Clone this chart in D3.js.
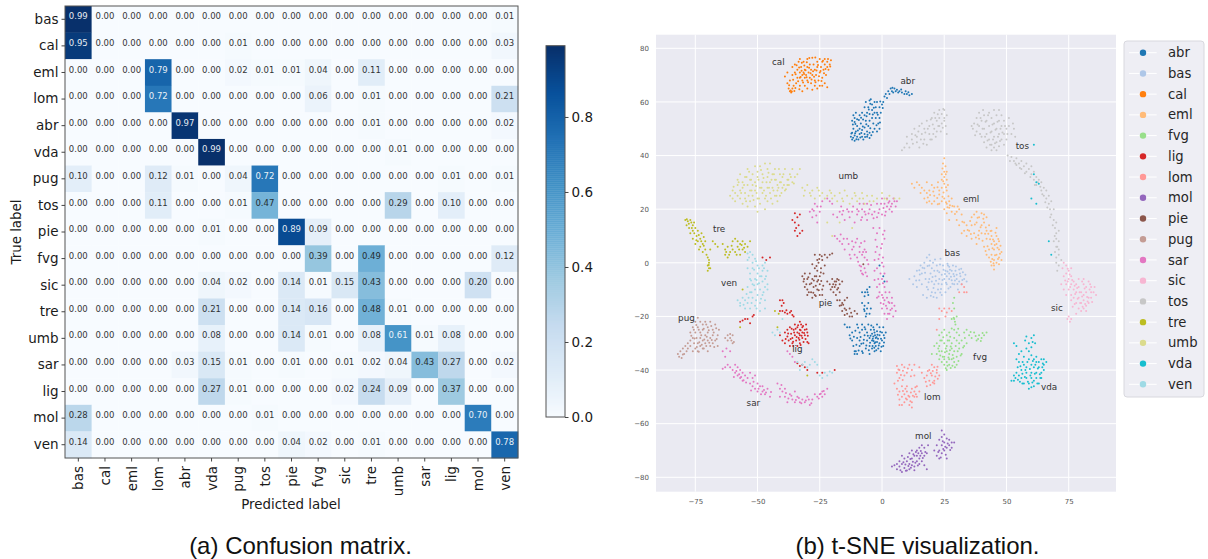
<!DOCTYPE html>
<html><head><meta charset="utf-8">
<script src="https://cdnjs.cloudflare.com/ajax/libs/d3/7.8.5/d3.min.js"></script>
<style>html,body{margin:0;padding:0;background:#fff}svg{display:block}text{font-family:"DejaVu Sans",sans-serif}</style>
</head><body><svg id="c" width="1208" height="559"></svg>
<script>
const regions=["bas","cal","eml","lom","abr","vda","pug","tos","pie","fvg","sic","tre","umb","sar","lig","mol","ven"];
const matrix=[
[.99,0,0,0,0,0,0,0,0,0,0,0,0,0,0,0,.01],
[.95,0,0,0,0,0,.01,0,0,0,0,0,0,0,0,0,.03],
[0,0,0,.79,0,0,.02,.01,.01,.04,0,.11,0,0,0,0,0],
[0,0,0,.72,0,0,0,0,0,.06,0,.01,0,0,0,0,.21],
[0,0,0,0,.97,0,0,0,0,0,0,.01,0,0,0,0,.02],
[0,0,0,0,0,.99,0,0,0,0,0,0,.01,0,0,0,0],
[.10,0,0,.12,.01,0,.04,.72,0,0,0,0,0,0,.01,0,.01],
[0,0,0,.11,0,0,.01,.47,0,0,0,0,.29,0,.10,0,0],
[0,0,0,0,0,.01,0,0,.89,.09,0,0,0,0,0,0,0],
[0,0,0,0,0,0,0,0,0,.39,0,.49,0,0,0,0,.12],
[0,0,0,0,0,.04,.02,0,.14,.01,.15,.43,0,0,0,.20,0],
[0,0,0,0,0,.21,0,0,.14,.16,0,.48,.01,0,0,0,0],
[0,0,0,0,0,.08,0,0,.14,.01,0,.08,.61,.01,.08,0,0],
[0,0,0,0,.03,.15,.01,0,.01,0,.01,.02,.04,.43,.27,0,.02],
[0,0,0,0,0,.27,.01,0,0,0,.02,.24,.09,0,.37,0,0],
[.28,0,0,0,0,0,0,.01,0,0,0,0,0,0,0,.70,0],
[.14,0,0,0,0,0,0,0,.04,.02,0,.01,0,0,0,0,.78]];
const colorbarTicks=[0,.2,.4,.6,.8];
const xTicksB=[-75,-50,-25,0,25,50,75];
const yTicksB=[80,60,40,20,0,-20,-40,-60,-80];
const legendNames=["abr","bas","cal","eml","fvg","lig","lom","mol","pie","pug","sar","sic","tos","tre","umb","vda","ven"];
const legendColors=["#1f77b4","#aec7e8","#ff7f0e","#ffbb78","#98df8a","#d62728","#ff9896","#9467bd","#8c564b","#c49c94","#e377c2","#f7b6d2","#c7c7c7","#bcbd22","#dbdb8d","#17becf","#9edae5"];
const clusterLabels=[["cal",-44.2,73.8],["abr",7.4,66.7],["umb",-17.5,31.2],["tos",53.7,42.5],["eml",32.5,22.6],["tre",-67.9,11.5],["bas",25.1,2.6],["ven",-64.7,-8.6],["pug",-81.9,-21.7],["pie",-25.4,-16],["lig",-36.1,-33.2],["sic",67.9,-17.9],["lom",16.9,-51.3],["fvg",36.6,-36.3],["vda",63.9,-47.4],["sar",-54.4,-53.3],["mol",13.3,-65.7]];

const abrPts=[[-12.5,47],[-12,48.5],[-11.5,50],[-12,46],[-11,47.5],[-11,45.5],[-10.5,49],[-10,47],[-10,51],[-9.5,46],[-9,48],[-9,50],[-8.5,52],[-8,47],[-8,49.5],[-7.5,46],[-7,48],[-7,50.5],[-6.5,53],[-6,47],[-6,49],[-5.5,51],[-5,46.5],[-5,48.5],[-5,53],[-12,53],[-11.5,55],[-11,52.5],[-11,54],[-10,53.5],[-10.5,56],[-9,55],[-8,56],[-7,55],[-7,58],[-6.5,60],[-6,56],[-5.5,58],[-5,60.5],[-5,55.5],[-4.5,61],[-4,57],[-4,59],[-4,54],[-3.5,52],[-3,56],[-3,60],[-3,50],[-2.5,58],[-2.5,54],[-2,60],[-2,49],[-2,56],[-1.5,52],[-1,58],[-1,54],[-1,50],[-.5,56],[0,59],[.5,60],[1,62],[1.5,63],[2,61.5],[2.5,64],[3,63],[3.5,65],[4,64],[4.5,63.5],[5,65],[5.5,64],[6,64.5],[6.5,63.5],[7,64],[8,63.5],[9,63],[9.5,64],[10,63],[11,62.5],[12,63],[-15,-23],[-14,-24],[-13,-24],[-13,-27],[-12,-26],[-12,-29],[-11.5,-31],[-11,-33],[-11,-34],[-10.5,-33],[-10,-34],[-10,-28],[-10,-23],[-9,-31],[-9,-26],[-9,-29],[-8,-23],[-8,-33],[-8,-25],[-7.5,-30],[-7,-27],[-7,-24],[-6.5,-32],[-6,-29],[-6,-26],[-5.5,-23],[-5,-34],[-5,-31],[-5,-28],[-4.5,-25],[-4,-26.5],[-4,-29],[-4,-32],[-3.5,-24],[-3.5,-27.5],[-3,-30],[-3,-26],[-3,-33],[-2.5,-28],[-2.5,-31],[-2,-23],[-2,-25.5],[-2,-29.5],[-1.5,-32],[-1,-27],[-1,-24],[-1,-30],[-.5,-33],[0,-26],[0,-29],[.5,-31],[.5,-24],[1,-28],[1.5,-26],[-8,-15],[-7,-18],[-7,-16],[-6.5,-20],[-6,-17],[-5.5,-15],[-5,-19],[-4.5,-17],[-8,-11],[-7,-12.5],[-6,-10],[-5.5,-12],[-5,-9],[-1,-1],[.5,-5],[1,-7]];
const abrMore=[[-12.3,48.2],[-11.6,46.6],[-10.8,48.3],[-10.3,46.1],[-9.7,49.3],[-8.7,46.7],[-8.3,48.4],[-7.7,50.8],[-6.8,46.9],[-6.3,51.7],[-5.8,47.8],[-4.7,50.2],[-4.3,47.6],[-3.7,48.8],[-11.7,51.6],[-10.7,51.8],[-9.3,53.3],[-8.4,54.1],[-7.6,53.4],[-6.2,54.7],[-5.3,57.2],[-4.7,59.3],[-3.7,55.3],[-3.3,57.8],[-2.2,51.3],[-1.7,55.2],[-.7,60.2],[-.8,52.3],[.3,57.7],[4.2,65.3],[7.7,64.6],[10.6,63.6],[-12.7,-28.2],[-11.3,-27.6],[-10.7,-25.3],[-10.3,-30.6],[-9.6,-24.2],[-9.4,-32.7],[-8.6,-27.7],[-8.3,-30.2],[-7.7,-33.6],[-7.3,-28.7],[-6.7,-24.8],[-6.3,-30.8],[-5.7,-27.2],[-5.3,-32.6],[-4.8,-29.8],[-4.3,-23.4],[-3.8,-31],[-3.7,-28.3],[-3.2,-25],[-2.8,-27],[-2.7,-29.6],[-2.3,-32.6],[-1.8,-26.8],[-1.6,-28.3],[-1.3,-30.8],[-.7,-25.7],[-.4,-28.3],[-.2,-31.3],[.7,-27],[.8,-29.7],[-3.4,-29.2],[-2.2,-27.8],[-4.6,-27.2],[-3.1,-31.7],[-7.2,-17.3],[-6.2,-19],[-5.8,-11],[-6.8,-11]];
const basPts=[[11,-6],[12.5,-8],[13,-5],[14,-3],[14,-9],[15,-6.5],[15.5,-1],[16,-4],[16,-8],[16.5,-12],[17,-2],[17,0],[17.5,-6],[18,-13],[18,2],[18.5,-10],[19,3],[19,-1],[19.5,-4],[20,-7],[20,-11],[20.5,0],[21,-3],[21,-8],[21.5,-5],[22,-1],[22,-13],[22.5,-10],[23,-3.5],[23,-6],[23.5,1.5],[24,-8],[24,-4.5],[24.5,-1],[25,-6],[25.5,-11],[25.5,-3],[26,-5],[26,-8],[26.5,-1],[27,-6],[27,-4],[27.5,-9],[28,-3],[28,-6.5],[28.5,-1],[29,-5],[29,-8],[29.5,-3],[30,-6],[30,-4.5],[30.5,-10],[31,-2.5],[31,-7],[31.5,-5],[32,-8],[32.5,-3.5],[33,-6],[33.5,-4.5],[34,-7],[19,-6],[18,-9],[20,-2],[24,-12],[27,-1.5]];
const basMore=[[13.7,-6.6],[15.2,-4.4],[16.3,-1.8],[17.3,-3.7],[18.3,-1.2],[18.7,-7.3],[19.3,.8],[20.3,-5.3],[20.7,-9.4],[21.3,1.2],[21.7,-6.7],[22.3,-3],[22.7,-7.8],[23.3,-.6],[23.7,-9.8],[24.3,-6.4],[24.7,-2.6],[25.3,-4.2],[25.7,-7.4],[26.3,-3.2],[26.7,-9.6],[27.3,-2.6],[27.7,-5.2],[28.3,-7.8],[28.7,-4.2],[29.3,-6.6],[29.7,-1.4],[30.3,-7.9],[31.3,-4],[32.3,-6.4],[19.6,-12.3],[20.7,-12.8],[21.4,-11.2],[23.4,-11.1],[26.3,-.4],[31.8,-2.2],[15,-2.8]];
const calPts=[[-39,69.5],[-38,67],[-38,71],[-37.5,65],[-37,64],[-37,68],[-36.5,63.5],[-36,65],[-36,70],[-36,73],[-35.5,66],[-35,71],[-35,74],[-34.5,67],[-34,69],[-34,72],[-33.5,75],[-33,71],[-33,69],[-33,66],[-33,76],[-32.5,73],[-32,70],[-32,68],[-32,64],[-31.5,71],[-31.5,75],[-31,69],[-31,72],[-31,66],[-30.5,70],[-30,73],[-30,76],[-30,68],[-30,65],[-29.5,71],[-29,69],[-29,74],[-28.5,67],[-28.5,72],[-28,76.5],[-28,70],[-28,64.5],[-27.5,74],[-27,72],[-27,68],[-27,66],[-26.5,70],[-26,75],[-26,65],[-26,73],[-25.5,68],[-25,76],[-25,71],[-25,66],[-24.5,73],[-24,69],[-24,66],[-24,75],[-23.5,72],[-23,67],[-23,74],[-22.5,70],[-22,75],[-22,65.5],[-21.5,72],[-21,74],[-20.5,75.5],[-22,73],[-23,76]];
const calMore=[[-37.3,66.2],[-36.7,64.3],[-36.2,63.9],[-35.7,68.3],[-35.2,64.1],[-34.7,70.3],[-34.3,73.7],[-33.7,67.7],[-33.3,72.8],[-32.7,69.3],[-32.3,71.6],[-32.2,74.6],[-31.7,67.2],[-31.3,70.4],[-30.7,71.8],[-30.3,69.2],[-30.2,74.8],[-29.7,67.3],[-29.3,72.7],[-28.7,70.7],[-28.3,68.4],[-27.7,71.4],[-27.3,69.4],[-26.7,67.3],[-26.3,71.7],[-25.7,73.8],[-25.3,69.6],[-24.7,71.5],[-24.3,67.8],[-23.7,75.4],[-23.3,70.7],[-22.7,72.3],[-21.7,76],[-20.8,73.2],[-33.2,64.7],[-34.8,65.2],[-31.2,73.6],[-29.2,76.4],[-26.8,76.6]];
const emlPts=[[25,39],[24.5,37],[25.5,36],[25,34],[26,34],[24,33],[25,32],[26,31],[24,31],[26.5,29],[25,29.5],[22.5,30],[24,28],[26,27],[21,28],[23,27],[20,29],[18,30],[12,29.5],[14,30],[13,28],[15,29],[16,28],[15.5,26],[17,27],[18,26],[19,27],[21,25],[23,25.5],[25,24],[17,24],[18,22.5],[19,23],[20,22],[21,23],[23,22],[24,23],[26,22],[27,23],[28,24],[25,20],[26,18.5],[27,20.5],[28,19],[29,21],[30,19],[31,20],[27,16],[30,16],[32,18],[31,14],[33,15],[33,12],[34,14],[32,11],[34,10],[35,12],[36,17],[36,14],[37,18],[38,19],[38,15],[39,17],[40,18.5],[41,18],[42,17],[36,9],[37,11],[38,7],[39,12],[39,9],[40,14],[40,11],[41,6],[41,15],[42,12],[42,9],[43,5],[43,14],[44,10],[44,7],[44,3],[44,12],[45,8],[45,5],[45,1],[45,-1],[46,10],[46,7],[46,3],[46,13],[47,5],[47,2],[47,8],[48,4],[48,1],[43,2],[42,3],[46,0],[47,-.5],[44,-1],[45,-2.5]];
const emlMore=[[24.3,35.2],[25.6,33],[24.6,30.4],[25.7,28.2],[22.3,28.2],[24.7,26.2],[19.3,25.3],[20.6,26.6],[22.2,24.2],[24.3,24.6],[26.7,24.8],[18.4,24.4],[22.4,21.8],[25.7,22.6],[27.3,21.5],[26.3,20.7],[28.3,21.2],[29.3,18.2],[30.4,21],[32.3,15.3],[34.4,12.2],[35.4,15.6],[35.7,10.7],[37.3,14.3],[37.7,9.4],[38.4,16.8],[38.7,10.3],[39.6,13.3],[40.4,8.2],[40.7,16.4],[41.4,10.8],[41.7,13.2],[42.4,6.2],[42.7,10.8],[43.4,8.8],[43.6,11.9],[44.4,5.4],[44.6,8.7],[45.4,2.8],[45.6,11.2],[46.4,5.6],[46.6,1.4],[47.4,3.4],[47.6,6.4],[43.7,.4],[44.8,-.2],[41.6,4.4],[46.7,8.9],[45.3,6.6],[44.3,1.4]];
const fvgPts=[[29,-13],[28.5,-15],[29,-17],[30,-20],[29,-21],[28,-21],[29.5,-23],[24,-26],[25,-25],[23,-27],[26,-27],[27,-26],[28,-24.5],[29,-25],[30,-26],[31,-27],[33,-26],[34,-25],[35,-27],[36,-28],[37,-26],[38,-29],[39,-27],[40,-28],[41,-27],[42,-26],[21,-31],[22,-30],[23,-31],[24,-29],[25,-30],[26,-31],[27,-29],[28,-30],[29,-28],[30,-29],[31,-30],[32,-29],[33,-31],[34,-30],[22,-34],[23,-33],[24,-33],[25,-35],[26,-33],[27,-34],[28,-32],[29,-33],[30,-35],[31,-32],[32,-34],[20,-34],[24,-37],[25,-38],[26,-37],[27,-38],[28,-36],[29,-37],[30,-38],[26,-40],[25,-36],[27,-36],[23,-36]];
const fvgMore=[[29.3,-22],[28.8,-20.5],[23.4,-29],[24.6,-27.8],[25.6,-32],[26.4,-29],[27.6,-31.2],[28.4,-34.4],[29.6,-31],[30.4,-33],[30.7,-36.6],[28.7,-35.6],[27.3,-32.6],[26.7,-35.3],[25.3,-33.4],[24.4,-35],[23.4,-34.6],[22.6,-32],[26.3,-38.4],[27.6,-39.2],[28.3,-38.4],[29.3,-39],[25.6,-39.3],[31.6,-34.6],[32.6,-31.6],[33.3,-28],[35.6,-25.8],[37.6,-27.3],[38.6,-28.4],[39.7,-29.2],[40.4,-26.2],[30.6,-24.6],[27.4,-27.6]];
const ligPts=[[-41,-14],[-40,-14],[-39.5,-15],[-41,-18],[-40,-18],[-39,-18.5],[-38,-19],[-37,-18.5],[-36,-19.5],[-35.5,-20],[-41,-27],[-40,-29],[-39,-26],[-39,-30],[-38,-27.5],[-38,-25],[-37.5,-29],[-37,-31],[-37,-24],[-36.5,-26.5],[-36,-28],[-36,-30],[-35.5,-25],[-35,-23],[-35,-27],[-34.5,-29],[-34,-26],[-34,-31],[-34,-24],[-33.5,-28],[-33,-22],[-33,-25],[-33,-27],[-33,-30],[-32.5,-23],[-32,-26],[-32,-28],[-32,-24],[-31.5,-29.5],[-31,-25],[-31,-27],[-30.5,-23],[-30,-26],[-30,-29.5],[-29.5,-30],[-57,-22],[-56,-21.5],[-55,-21],[-54,-21],[-53,-22.5],[-52,-20],[-51.5,-19.5],[-36,16],[-35,18.5],[-34,17],[-33,18],[-35,15],[-34.5,13],[-33.5,14],[-35,12],[-34,10],[-33,11],[-32,12],[-48,2],[-46.5,1],[-45,2],[-34,-37.5],[-33,-38.5],[-32,-38],[-31,-39],[-30,-40],[-26,-41],[-24,-41],[-19,-40]];
const ligMore=[[-38.7,-28.4],[-37.7,-26.4],[-36.7,-28.4],[-36.3,-24.6],[-35.7,-29.4],[-35.3,-26],[-34.7,-24.6],[-34.3,-27.7],[-33.7,-23.3],[-33.3,-26.4],[-33.2,-28.7],[-32.7,-25.2],[-32.3,-27.2],[-31.7,-23.6],[-31.3,-26.2],[-30.7,-28.4],[-30.3,-24.8],[-29.8,-27.2],[-35.7,-31],[-32.7,-30.7],[-40.3,-16],[-38.4,-17.7],[-36.5,-18]];
const lomPts=[[6,-38.5],[7,-40],[8,-38],[6,-41],[9,-42],[7,-43],[9,-39],[10,-41],[11,-38],[12,-40],[13,-38],[13,-42],[15,-39],[20,-38],[19,-40],[21,-39],[22,-41],[23,-42],[16,-41],[17,-43],[18,-42],[19,-44],[20,-42],[21,-44],[22,-40],[18,-46],[21,-45],[5,-45],[6,-47],[7,-48],[8,-46],[9,-49],[10,-46],[11,-50],[12,-47],[13,-48],[14,-46],[10,-48],[9,-52],[8,-50],[7,-51],[7,-53],[8,-53],[10,-51],[11,-53],[12,-52],[12,-54],[13,-50],[14,-50],[15,-48],[23,-17],[24,-18],[25,-17],[26,-18.5],[27,-17],[28,-18],[25.5,-20],[23,-21],[32,-8],[33,-9],[34,-11],[31,-11],[33,-11],[22,-25]];
const lomMore=[[6.6,-39.8],[7.6,-41.8],[8.4,-40.3],[6.4,-44],[8.3,-43.7],[10.4,-39.4],[11.6,-42.3],[18.4,-40.4],[20.4,-40.4],[21.4,-42.4],[22.4,-43.2],[19.6,-41.2],[17.6,-44.4],[19.4,-45.6],[20.4,-44.6],[22.3,-38.8],[9.4,-47],[10.6,-49.6],[11.6,-48.4],[12.4,-49.6],[13.4,-46.4],[9.6,-50.6],[11.4,-51.6],[6.4,-49.2],[8.4,-47.8],[13.6,-49]];
const molPts=[[4,-76],[5,-75.5],[6,-75],[6,-77],[7,-74],[7,-76],[8,-72],[8,-75],[8,-78],[9,-73],[9,-76.5],[10,-74],[10,-77.5],[11,-71],[11,-75],[11,-77],[12,-73],[12,-75.5],[12,-70],[13,-72],[13,-76],[14,-70],[14,-74],[14,-72],[15,-69],[15,-73],[15,-75],[16,-71],[16,-74],[16,-68],[17,-72],[17,-69],[17,-75.5],[18,-71],[18,-77],[18.5,-68],[21,-70],[22,-72],[22,-68],[23,-73],[23,-66],[23,-70],[24,-62.5],[24,-65],[24,-68],[24,-71],[25,-64],[25,-67],[25,-70],[26,-65.5],[26,-69],[26,-73],[27,-66],[27,-68],[28,-67],[28,-69],[29,-67]];
const molMore=[[7.4,-77.4],[8.6,-74.4],[9.4,-75.2],[9.6,-77.6],[10.4,-72.4],[10.6,-75.8],[11.4,-73.2],[11.6,-76.4],[12.4,-74.2],[12.6,-71.4],[13.4,-74.6],[13.6,-70.6],[14.4,-75.6],[14.6,-71],[15.4,-72],[15.6,-70.2],[16.4,-72.8],[17.4,-70.6],[13,-77.4],[24.4,-66.6],[24.6,-69.4],[25.4,-68.6],[25.6,-71.6],[26.4,-67.4],[27.4,-69.8],[22.6,-70.6],[23.6,-72.6]];
const piePts=[[-32,-5],[-31.5,-7],[-31,-9],[-31,-4],[-30,-6],[-30,-10],[-30,-12],[-29,-8],[-29,-4],[-28.5,-11],[-28,-6],[-28,-13],[-27.5,-9],[-27,-2],[-27,-5],[-27,-12],[-26,-7],[-26,-10],[-26,-3],[-25.5,0],[-25,-12],[-25,-8],[-25,-5],[-24.5,-2],[-24,1],[-24,-10],[-24,-12],[-23.5,-4],[-23,3],[-27,3],[-26,1],[-25,3],[-23,-1],[-22,2],[-21,3],[-20,3.5],[-28,-.5],[-22,-7],[-21,-8],[-20,-9],[-20,-6],[-19.5,-11],[-19,-7],[-19,-9],[-18.5,-12],[-18,-6],[-18,-10],[-17,-8],[-17,-11],[-16,-7],[-18,-14],[-17,-14],[-16,-15],[-15,-14],[-14,-13],[-17,-16],[-16,-18],[-15,-17],[-15,-19.5],[-14,-19],[-13,-17],[-12,-20],[-11,-18],[-10,-19],[-13,-20],[-7.5,-.5]];
const pieMore=[[-31.3,-6],[-30.4,-8],[-29.6,-5.4],[-29.4,-11],[-28.4,-7.6],[-27.6,-11.2],[-27.4,-6.6],[-26.6,-8.6],[-26.4,-5],[-26.6,-12.4],[-25.6,-6.4],[-25.4,-10.2],[-24.4,-6.8],[-24.6,-3.6],[-23.6,-8.6],[-25.2,1.4],[-24.2,2.4],[-26.3,-1.2],[-19.6,-8],[-18.6,-8.2],[-18.4,-7],[-17.6,-9.4],[-20.6,-10],[-17.4,-6.4],[-16.4,-15.8],[-15.6,-15.6],[-14.4,-17.6],[-12.4,-18.6]];
const pugPts=[[-82,-34],[-81.5,-35],[-81,-33],[-80.5,-35.5],[-80,-32],[-79.5,-34],[-79,-31],[-78.5,-33],[-78,-30],[-78,-32],[-77,-29],[-77,-26],[-77,-31],[-76,-24],[-76,-28],[-76,-33],[-75.5,-30],[-75,-22],[-75,-26],[-75,-32],[-74.5,-28],[-74,-20.5],[-74,-24],[-74,-30],[-74,-33],[-73,-22],[-73,-26],[-73,-28],[-73,-31],[-72,-23],[-72,-25],[-72,-29],[-72,-32],[-71,-22],[-71,-27],[-71,-30],[-70,-24],[-70,-26],[-70,-29],[-70,-33],[-69,-22],[-69,-28],[-69,-31],[-68,-25],[-68,-27],[-68,-30],[-67,-23],[-67,-29],[-66,-27],[-66,-31],[-65.5,-25],[-63,-28],[-62,-27],[-61,-28],[-60.5,-29],[-60,-27],[-59.5,-29.5],[-60,-30],[-62,-29]];
const pugMore=[[-76.6,-27.2],[-75.6,-25],[-75.3,-28.2],[-74.6,-23.2],[-74.4,-31.4],[-73.6,-25],[-73.4,-29.6],[-73.6,-33.2],[-72.6,-27],[-72.4,-30.6],[-71.6,-24.6],[-71.4,-28.6],[-71.6,-32],[-70.6,-23],[-70.4,-27.6],[-70.6,-31],[-69.6,-25.2],[-69.4,-29.8],[-68.6,-23.6],[-68.4,-28.8],[-67.6,-26],[-67.4,-31.4],[-66.6,-24.4],[-66.4,-28.4],[-80,-34.2],[-61,-26.6]];
const sarPts=[[-64,-39.5],[-63,-39],[-62,-38],[-61,-39],[-60,-40],[-59,-41],[-59,-38],[-58,-39],[-58,-42],[-57,-40],[-57,-43],[-56,-41],[-56,-44],[-55,-42],[-54,-43],[-53,-41],[-52,-43],[-51,-42],[-53,-45],[-52,-46],[-51,-47],[-50,-45],[-50,-48],[-49,-46],[-48,-48],[-48,-46],[-47,-49],[-46,-47],[-45,-50],[-42,-45],[-41,-47],[-41,-50],[-40,-48],[-39,-47],[-39,-50],[-38,-52],[-37,-49],[-36,-51],[-35,-48],[-35,-52],[-34,-50],[-33,-52],[-32,-51],[-31,-52],[-30,-50],[-29,-53],[-28,-51],[-27,-49],[-26,-50],[-25,-49],[-24,-48],[-24,-50],[-23,-49],[-22,-47],[-64,-33],[-63,-35],[-62.5,-32],[-61,-33],[-38,-33],[-37,-34],[-36,-35],[-35,-37],[-29,19],[-28,20],[-28,17],[-27,22],[-26,21],[-25,19],[-26,15],[-24,23],[-22,24],[-21,23],[-20,22],[-18,17],[-17,19],[-16,18],[-15,16],[-14,20],[-13,17],[-12,19],[-11,15],[-10,18],[-10,20],[-9,22],[-8,17],[-8,20],[-7,19],[-6,22],[-6,16],[-5,20],[-4,18],[-3,19],[-2,22],[-2,17],[-1,20],[0,24],[0,18],[1,22],[1.5,19],[2,21],[2,24],[3,20],[3,23],[4,22],[4,19],[5,23],[5.5,21],[6,23],[-19,10],[-18,9],[-17,8],[-16,7],[-15,5],[-14,9],[-13,3],[-12,5],[-12,8],[-11,3],[-10,9],[-10,2],[-9,6],[-9,4],[-8,3],[-7,8],[-7,5],[-7,2],[-6,1],[-9,-1],[-8.5,-3],[-8,-4],[-7,-2],[-6,-5],[-5.5,-.5],[-3.5,13],[-2,11],[-1,13],[1,12],[1,9],[0,7],[-2,6],[-1,3],[-3,1],[-3,-3],[-2,-2],[0,0],[-1.5,-6],[-2,-9],[-1,-8],[0,-6],[1,-4],[1,-9],[2,-7],[-2,-13],[-1,-11],[0,-12],[1,-14],[2,-13],[3,-11],[3,-15],[4,-13],[-.5,-15],[0,-17],[1,-19],[2,-17],[3,-19],[4,-17],[4.5,-20],[5,-16],[5.5,-18],[2,-21]];
const sarMore=[[-59.5,-42.6],[-58.5,-40.4],[-57.4,-41.6],[-56.6,-42.6],[-55.6,-43.8],[-54.6,-44.6],[-52.6,-47.6],[-51.6,-44.4],[-49.6,-47],[-48.6,-49],[-47.4,-47.4],[-46.6,-48.4],[-44.6,-48.2],[-40.4,-45.6],[-38.6,-48.6],[-37.6,-50.6],[-36.4,-49.6],[-34.6,-51.2],[-33.4,-50.4],[-32.4,-52.4],[-30.6,-51.4],[-29.4,-51],[-28.4,-52.4],[-25.4,-50.6],[-24.6,-48.8],[-23.4,-47.8],[-27.4,19.4],[-26.4,17.6],[-24.6,21],[-19.6,18],[-16.4,21],[-15.6,19.4],[-13.4,19],[-11.6,21],[-9.4,19.2],[-8.4,16],[-7.4,22],[-6.6,18],[-5.4,18.4],[-4.4,21.6],[-3.4,16.6],[-1.4,18.6],[-.4,22],[.6,20.4],[1.2,17.6],[2.6,22.4],[3.6,21],[4.6,24],[-16.6,10.6],[-15.4,9],[-13.4,7],[-12.6,1.6],[-11.4,6],[-10.6,7.6],[-9.6,.4],[-8.4,7.4],[-7.6,4],[-6.4,4],[-7.6,-4.4],[-8.4,-1.4],[-6.6,-3.6],[-2.6,4],[-1.4,1.4],[-.4,5.4],[.4,2],[-2.6,8.6],[.4,10.6],[-3,-6.4],[-.6,-4],[.6,-1.4],[.4,-7.6],[1.4,-11],[-1.4,-12.6],[.6,-15.4],[1.6,-16],[2.6,-14.6],[3.4,-17.6],[2.4,-19],[.4,-13],[4,-15]];
const sicPts=[[73,0],[72.5,-2],[74,-1],[74,-4],[73,-5],[75,-3],[76,-2],[75,-6],[74,-8],[72,-8],[76,-8],[76,-5],[77,-7],[73,-10],[74,-12],[75,-10],[76,-12],[76,-14],[77,-10],[77,-13],[78,-8],[78,-11],[78,-15],[79,-6],[79,-9],[79,-13],[79,-17],[80,-11],[80,-15],[80,-18],[81,-6],[81,-8],[81,-12],[81,-14],[81,-17],[82,-9],[82,-11],[82,-16],[83,-7],[83,-13],[83,-15],[84,-9],[84,-11],[84,-13],[85,-11],[86,-12],[75,-20],[76,-21],[74.5,-21],[75.5,-22],[78,-19],[82,-18]];
const sicMore=[[74.6,-2.2],[75.4,-4.4],[73.6,-6.6],[74.6,-7],[75.6,-9],[76.4,-6.4],[77.4,-8.6],[77.6,-11.6],[78.4,-9.4],[78.6,-13.4],[79.4,-11],[79.6,-15],[80.4,-7],[80.4,-12.6],[80.6,-16.4],[81.4,-9.6],[81.6,-15.4],[82.4,-12.8],[82.6,-14.4],[83.4,-10],[83.6,-8],[84.4,-14.6],[85.4,-9],[77.4,-15.4],[76.6,-16.4]];
const tosPts=[[8,42],[9,43],[10,44.5],[11,43],[10,47],[12,46],[12,48],[13,50],[14,45],[14,47],[15,51],[15,43],[16,48],[16,52],[17,46],[17,50],[18,53],[18,44],[19,48],[19,51],[20,54],[20,46],[21,50],[21,56],[22,53],[22,49],[23,57],[23,54],[23,51],[24,55.5],[24,52],[25,57],[25,54],[25,53],[26,55],[36,51],[36.5,50],[37,52],[38,54],[38,49],[39,56],[39,51],[40,53],[40,47],[41,55],[41,50],[41,45],[42,53],[42,48],[42,43],[43,56],[43,51],[43,46],[44,54],[44,49],[44,42],[44,44],[45,57],[45,52],[45,47],[45,43],[46,55],[46,50],[46,45],[46,42],[47,57],[47,53],[47,48],[47,43.5],[48,55],[48,51],[48,46],[49,53],[49,48],[49,44],[50,50],[50,46],[51,54],[51,51],[52,48],[53,50],[53.5,47],[50.5,40],[52,39.5],[53,38],[54,39],[54,36.5],[55,37],[56,38],[56,35],[57,36],[58,34],[58,37],[59,35],[60,33],[60,36],[61,31],[61,34],[62,32],[62,29],[63,31],[64,30],[64,27],[65,28],[65,25],[66,27],[66,24],[67,25],[67,22],[67.5,20],[68,23],[68,18],[69,20],[69,16],[69.5,13],[70,15],[70,11],[71,12],[70,9],[69,8],[70,6],[71,8],[69.5,4],[70,2],[71,3],[70,0],[71,-1],[72,1]];
const tosMore=[[12.4,44.4],[13.4,47.6],[14.6,49],[15.6,46],[16.6,44.4],[17.4,48.6],[18.4,50],[19.4,46],[19.6,53.4],[20.6,48],[20.4,51.6],[21.4,54],[21.6,47],[22.6,51],[22.4,55.4],[23.6,49],[24.4,50.4],[24.6,57.4],[25.6,51],[26,48],[37.4,47.6],[38.4,51.6],[39.4,48],[39.6,54],[40.4,50],[40.6,57],[41.4,47],[41.6,52.6],[42.4,45.6],[42.6,55],[43.4,44],[43.6,48.6],[44.4,51.6],[44.6,46],[45.4,44.6],[45.6,49.6],[46.4,52.6],[46.6,47],[47.4,45.4],[47.6,50],[48.4,48.6],[49.4,51],[50.4,48],[52.6,52],[51.4,38],[53.6,37],[55.4,35.4],[57.4,33.4],[59.6,32],[61.4,29],[62.6,30],[63.6,28.4],[64.4,25.6],[65.6,22.6],[66.4,20.6],[67.6,17],[68.6,14],[69.4,10],[70.4,6],[71,5],[70.4,-3]];
const trePts=[[-79,16],[-78.5,14],[-78,15.5],[-77.5,13],[-77,16],[-77,11],[-76,14],[-76,12],[-76,9],[-75.5,15],[-75,13],[-75,7],[-74.5,10],[-74,12],[-74,8],[-73.5,5],[-73,9],[-73,6],[-72.5,11],[-72,4],[-72,7],[-71,8],[-71,5],[-70.5,3],[-69,5],[-68,8],[-67,7],[-66,6],[-70,2],[-69.5,1],[-69.5,0],[-70,-1],[-69.5,-2],[-70,-3],[-69,-2],[-64,7],[-63,5],[-63,3],[-62,6],[-62,2],[-61,4],[-60,5],[-60,8],[-59,9],[-59,4],[-58,6],[-58,8],[-57,7],[-57,3],[-56,5],[-56,8],[-55,7],[-55,4],[-54,6],[-53,8],[-56,-10],[-57,-24],[-43,-18],[-42,-24],[-41.5,-19],[-30,-42]];
const treMore=[[-78.4,16.2],[-77.6,14.6],[-76.6,15],[-76.4,13],[-75.4,11],[-74.6,8.4],[-73.6,10.4],[-72.6,8],[-71.6,9.6],[-71.6,6.4],[-69.6,-.8],[-62.6,4],[-61.4,3],[-60.4,6.4],[-58.4,3],[-57.4,5],[-56.4,6.6],[-55.4,5.6]];
const umbPts=[[-61,25],[-60,24],[-60,27],[-59,23],[-59,26],[-58,29],[-58,25],[-58,31],[-57,27],[-57,33],[-57,24],[-56,30],[-56,22],[-56,28],[-55,26],[-55,32],[-55,24],[-54,29],[-54,35],[-54,21],[-53,27],[-53,31],[-53,23],[-52,33],[-52,29],[-52,25],[-51,36],[-51,30],[-51,27],[-51,21],[-50,34],[-50,24],[-50,32],[-50,19],[-49,28],[-49,36],[-49,22],[-48,30],[-48,26],[-48,33],[-47,37],[-47,24],[-47,20],[-46,32],[-46,28],[-46,35],[-46,23],[-45,30],[-45,26],[-45,37],[-44,33],[-44,28],[-44,22],[-43,31],[-43,25],[-43,35],[-42,29],[-42,27],[-42,23],[-41,33],[-41,30],[-41,25],[-40,32],[-40,28],[-39,35],[-39,27],[-38,31],[-38,29],[-37,33],[-36,30],[-36,35],[-35,32],[-34,33],[-33,35],[-32,28],[-31,27],[-30,29],[-29,26],[-28,27],[-27,24],[-26,28],[-25,25],[-24,26],[-22,25],[-21,27],[-20,24],[-19,25],[-18,23],[-17,26],[-16,24],[-15,27],[-14,25],[-13,22],[-12,24],[-11,26],[-10,23],[-9,24],[-8,26],[-7,22],[-6,25],[-5,23],[-4,25],[-2,24],[0,26],[1,24],[3,25],[5,24],[7,24],[-22,15],[-20,10],[-17,15],[-12,13]];
const umbMore=[[-59.6,28.4],[-57.6,30],[-56.6,26],[-55.4,29],[-54.6,23],[-54.4,32],[-53.6,25],[-53.4,34],[-52.4,27],[-52.6,31],[-51.6,23.4],[-50.6,28.6],[-50.4,26],[-49.6,31],[-49.4,24],[-48.6,34.6],[-48.4,28],[-47.6,31.6],[-47.4,27],[-46.6,25],[-46.4,30],[-45.6,33.6],[-45.4,28],[-44.6,24],[-44.4,31],[-43.6,27],[-43.4,33],[-42.6,31],[-42.4,25],[-41.6,28],[-41.4,35],[-40.6,30],[-40.4,26],[-39.6,33],[-39.4,29],[-38.6,27.4],[-37.6,31],[-37.4,29],[-36.6,32],[-35.4,29.6],[-31.4,25],[-28.6,25],[-25.4,27],[-23,24],[-20.4,26],[-15.6,23],[-10.6,25],[-7.6,24],[-3.4,23],[2,23.6]];
const vdaPts=[[57.5,-29],[58,-27.5],[59,-30],[60,-28],[60.5,-29.5],[61,-27],[61.5,-30],[53,-30],[54,-31],[58,-32],[59,-33],[60,-31.5],[56,-33],[55,-34],[55,-37],[54,-36],[54.5,-39],[53,-42],[52,-44],[53,-44],[54,-41],[55,-42],[56,-40],[56,-43],[56.5,-37],[57,-35],[57,-38],[57,-45],[58,-41],[58,-43],[58,-39],[59,-36],[59,-45],[59,-47],[60,-34.5],[60,-38],[60,-41],[60,-43],[61,-36],[61,-39],[61,-46],[61,-44],[62,-37],[62,-41],[62,-43],[62,-35],[63,-39],[63,-45],[63,-37],[64,-36],[64,-41],[64,-43],[65,-38],[65,-40],[66,-37],[65,-36],[61,44],[62,30],[63,29.5],[60,24],[62,22],[61,33],[68,3],[67,8]];
const vdaMore=[[55.6,-38.6],[56.4,-41.4],[53.6,-43],[54.6,-43.6],[55.4,-44.4],[56.4,-45],[57.4,-42.6],[57.6,-40],[58.6,-44.4],[58.4,-37],[59.4,-39.6],[59.6,-42],[60.4,-44.6],[60.6,-36.6],[61.4,-41.4],[61.6,-38],[62.4,-45],[62.6,-39.4],[63.4,-41.6],[63.6,-43],[64.6,-37.6],[64.4,-39],[60,-46.4]];
const venPts=[[-54,3.5],[-53,4],[-52,3],[-51,1.5],[-54,1],[-52,0],[-50,-1],[-48,-1],[-47,0],[-54,-2],[-53,-4],[-52,-2],[-50,-4],[-48,-3],[-46,-3],[-53,-6],[-51,-6],[-49,-5],[-47,-6],[-46,-8],[-48,-7],[-50,-8],[-52,-8],[-54,-9],[-53,-11],[-51,-10],[-49,-10],[-47,-9],[-46,-10],[-55,-14],[-57,-15],[-56,-13],[-58,-14],[-54,-15],[-52,-13],[-50,-12],[-48,-12],[-53,-17],[-51,-16],[-49,-15],[-47,-14],[-55,-17],[-57,-16],[-47,-17],[-49,-18],[-44,-26],[-43,-27],[-42,-25],[-41,-26],[-40,-21],[-34,-37],[-33,-40],[-32,-38],[-31,-37],[-30,-39],[-29,-38],[-28,-36],[-27,-37],[-26,-38],[-25,-42],[-24,-43],[-23,-41],[-22,-42],[-21,-40.5],[-20,-41]];
const venMore=[[-53.4,2],[-50.6,.6],[-51.4,-2.6],[-49.4,-2],[-47.4,-2],[-52.6,-6.6],[-50.4,-6.4],[-48.4,-5],[-46.6,-5],[-51.4,-8.4],[-49.4,-7.6],[-47.6,-11],[-52.4,-11],[-50.6,-14],[-48.6,-13.4],[-53.6,-13],[-55.6,-15.6],[-52.4,-15],[-50.4,-17],[-54.4,-11.6]];
const pointSeries=[abrPts.concat(abrMore),basPts.concat(basMore),calPts.concat(calMore),emlPts.concat(emlMore),fvgPts.concat(fvgMore),ligPts.concat(ligMore),lomPts.concat(lomMore),molPts.concat(molMore),piePts.concat(pieMore),pugPts.concat(pugMore),sarPts.concat(sarMore),sicPts.concat(sicMore),tosPts.concat(tosMore),trePts.concat(treMore),umbPts.concat(umbMore),vdaPts.concat(vdaMore),venPts.concat(venMore)];

const svg=d3.select("#c");
/* ---------- confusion matrix ---------- */
const L=65,T=6,R=518,B=458;
const x=d3.scaleBand().domain(regions).range([L,R]);
const y=d3.scaleBand().domain(regions).range([T,B]);
const blues=d3.scaleLinear().domain(d3.range(9).map(i=>i/8*0.99)).range(d3.schemeBlues[9]);
const gm=svg.append("g");
matrix.forEach((row,i)=>row.forEach((v,j)=>{
  gm.append("rect").attr("x",x(regions[j])).attr("y",y(regions[i])).attr("width",x.bandwidth()+.3).attr("height",y.bandwidth()+.3).attr("fill",blues(v));
}));
matrix.forEach((row,i)=>row.forEach((v,j)=>{
  gm.append("text").attr("x",x(regions[j])+x.bandwidth()/2).attr("y",y(regions[i])+y.bandwidth()/2+.1)
    .attr("text-anchor","middle").attr("font-size",8.5).attr("fill",v>.495?"#fff":"#1a1a1a").attr("opacity",.9).text(v.toFixed(2));
}));
gm.append("rect").attr("x",L).attr("y",T).attr("width",R-L).attr("height",B-T).attr("fill","none").attr("stroke","#555").attr("stroke-width",1);
const ax=svg.append("g").attr("transform",`translate(0,${B})`).call(d3.axisBottom(x).tickSize(3.5));
ax.select(".domain").remove();
ax.selectAll("line").attr("stroke","#444");
ax.selectAll("text").attr("font-size",13.5).attr("fill","#1a1a1a").attr("text-anchor","end").attr("dominant-baseline","central")
  .attr("transform","rotate(-90) translate(-8,0)").attr("x",0).attr("y",0).attr("dy",0);
const ay=svg.append("g").attr("transform",`translate(${L},0)`).call(d3.axisLeft(y).tickSize(3.5).tickPadding(3));
ay.select(".domain").remove();
ay.selectAll("line").attr("stroke","#444");
ay.selectAll("text").attr("font-size",13.5).attr("fill","#1a1a1a");
svg.append("text").attr("x",291).attr("y",509).attr("text-anchor","middle").attr("font-size",13.4).attr("fill","#1a1a1a").text("Predicted label");
svg.append("text").attr("transform","translate(21,232) rotate(-90)").attr("text-anchor","middle").attr("font-size",13.4).attr("fill","#1a1a1a").text("True label");
/* colour bar */
const cb=d3.scaleLinear().domain([0,.99]).range([417,45.7]);
d3.range(1,186).forEach(i=>{const v=i/185*.99;
  svg.append("rect").attr("x",546).attr("width",19).attr("y",cb(v)).attr("height",2.4).attr("fill",blues(v));});
svg.append("rect").attr("x",546).attr("y",45.7).attr("width",19).attr("height",371.3).attr("fill","none").attr("stroke","#555");
const ac=svg.append("g").attr("transform","translate(565,0)").call(d3.axisRight(cb).tickValues(colorbarTicks).tickFormat(d3.format(".1f")).tickSize(3.5).tickPadding(3));
ac.select(".domain").remove();
ac.selectAll("line").attr("stroke","#444");
ac.selectAll("text").attr("font-size",13.5).attr("fill","#1a1a1a");
/* ---------- t-SNE ---------- */
const PL=656,PR=1116,PT=34.7,PB=491.7;
const sx=d3.scaleLinear().domain([-75,75]).range([695.3,1068.7]);
const sy=d3.scaleLinear().domain([80,-80]).range([48.3,477.3]);
svg.append("rect").attr("x",PL).attr("y",PT).attr("width",PR-PL).attr("height",PB-PT).attr("fill","#eaeaf2");
const minus=d=>String(d).replace("-","\u2212");
const gx=svg.append("g").attr("transform",`translate(0,${PB})`).call(d3.axisBottom(sx).tickValues(xTicksB).tickFormat(minus).tickSize(0).tickPadding(7));
gx.select(".domain").remove();gx.selectAll("text").attr("font-size",7).attr("fill","#555");
const gy=svg.append("g").attr("transform",`translate(${PL},0)`).call(d3.axisLeft(sy).tickValues(yTicksB).tickFormat(minus).tickSize(0).tickPadding(7));
gy.select(".domain").remove();gy.selectAll("text").attr("font-size",7).attr("fill","#555");
const grid=svg.append("g").attr("stroke","#fff").attr("stroke-width",1);
xTicksB.forEach(t=>grid.append("line").attr("x1",sx(t)).attr("x2",sx(t)).attr("y1",PT).attr("y2",PB));
yTicksB.forEach(t=>grid.append("line").attr("y1",sy(t)).attr("y2",sy(t)).attr("x1",PL).attr("x2",PR));
const gp=svg.append("g");
pointSeries.forEach((pts,k)=>{
  gp.append("g").attr("fill",legendColors[k]).selectAll("circle").data(pts).join("circle")
    .attr("cx",d=>sx(d[0])).attr("cy",d=>sy(d[1])).attr("r",1);
});
svg.append("g").selectAll("text").data(clusterLabels).join("text")
  .attr("x",d=>sx(d[1])).attr("y",d=>sy(d[2])).attr("font-size",8.8).attr("fill","#333").text(d=>d[0]);
/* legend */
const lg=svg.append("g");
lg.append("rect").attr("x",1124).attr("y",41).attr("width",80).attr("height",356).attr("rx",3).attr("fill","#eeeef4").attr("stroke","#d8d8de").attr("stroke-width",1);
const ly=d3.scalePoint().domain(legendNames).range([52.7,384.3]);
legendNames.forEach((n,i)=>{
  lg.append("line").attr("x1",1129).attr("x2",1156.7).attr("y1",ly(n)).attr("y2",ly(n)).attr("stroke","#fff");
  lg.append("circle").attr("cx",1143).attr("cy",ly(n)).attr("r",3.2).attr("fill",legendColors[i]);
  lg.append("text").attr("x",1168).attr("y",ly(n)+4.6).attr("font-size",13.2).attr("fill","#262626").text(n);
});
/* captions */
const cap=(t,cx)=>svg.append("text").attr("x",cx).attr("y",553.5).attr("text-anchor","middle").attr("font-size",24).attr("fill","#111").style("font-family","'Liberation Sans',sans-serif").text(t);
cap("(a) Confusion matrix.",300.5);
cap("(b) t-SNE visualization.",917.5);
</script></body></html>
